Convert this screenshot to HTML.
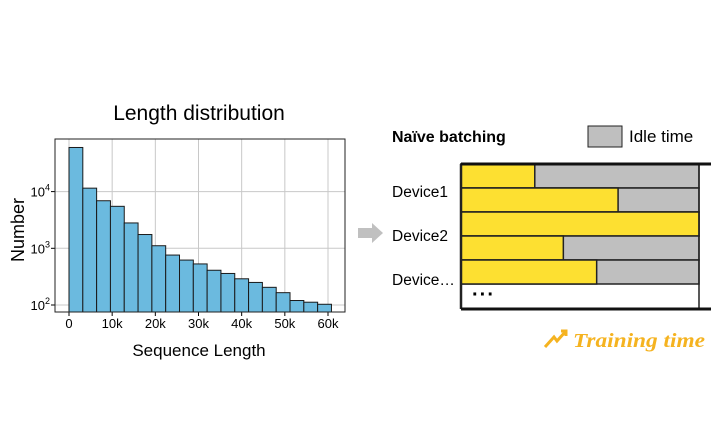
<!DOCTYPE html>
<html><head><meta charset="utf-8"><style>
body{margin:0;background:#fff;}
svg{display:block;font-family:"Liberation Sans","DejaVu Sans",sans-serif;}
</style></head><body>
<svg id="c" width="726" height="425" viewBox="0 0 726 425">
<rect width="726" height="425" fill="#fff"/>
<text x="199" y="120" font-size="21" text-anchor="middle">Length distribution</text>
<g id="plot"></g>
<text x="199" y="356" font-size="17" text-anchor="middle">Sequence Length</text>
<text transform="translate(24,230) rotate(-90)" font-size="18" text-anchor="middle">Number</text>
<polygon points="358,228 372,228 372,223 383,233 372,243 372,238 358,238" fill="#c0c0c0"/>
<text x="392" y="142" font-size="16" font-weight="bold">Naïve batching</text>
<rect x="588" y="126" width="34" height="21" fill="#bfbfbf" stroke="#222" stroke-width="1"/>
<text x="629" y="142" font-size="17">Idle time</text>
<g id="dev"></g>
<text x="392" y="197" font-size="15.5">Device1</text>
<text x="392" y="241" font-size="15.5">Device2</text>
<text x="392" y="285" font-size="15.5">Device…</text>
<text x="472" y="301" font-size="20" font-weight="bold" letter-spacing="1">···</text>
<g>
<path d="M545,347 L554,337 L557,341 L566,331 M561,331 L566,331 L566,336" stroke="#f5b320" stroke-width="3" fill="none"/>
<text x="573" y="347" font-size="20" font-weight="bold" font-style="italic" fill="#f5b320" textLength="132" lengthAdjust="spacingAndGlyphs" font-family="Liberation Serif, serif">Training time</text>
</g>
</svg>
<script>
const binStarts=[0,3.2,6.4,9.6,12.8,16,19.2,22.4,25.6,28.8,32,35.2,38.4,41.6,44.8,48,51.2,54.4,57.6];
const counts=[60000,11500,6900,5500,2800,1750,1110,760,620,530,410,360,290,250,205,165,120,112,103];
const xTicks=[0,10,20,30,40,50,60];
const xTickLabels=["0","10k","20k","30k","40k","50k","60k"];
const yTicks=[2,3,4];
const binWidth=3.2;
const devYellow=[0.31,0.66,1.0,0.43,0.57];
const NS="http://www.w3.org/2000/svg";
const L=55,R=345,T=139,B=312;
const xs=k=>69+(k)*(328-69)/60;
const ys=v=>305-(Math.log10(v)-2)*56.7;
function mk(t,a,p){const e=document.createElementNS(NS,t);for(const k in a)e.setAttribute(k,a[k]);p.appendChild(e);return e;}
const g=document.getElementById('plot');
mk('rect',{x:L,y:T,width:R-L,height:B-T,fill:'#fff'},g);
xTicks.forEach((t,i)=>{const x=xs(t);
const l=mk('line',{x1:x,x2:x,y1:T,y2:B,stroke:'#c8c8c8','stroke-width':1},g);


mk('line',{x1:x,x2:x,y1:B,y2:B+4,stroke:'#000'},g);
const tx=mk('text',{x:x,y:B+16,'font-size':13,'text-anchor':'middle'},g);tx.textContent=xTickLabels[i];

});
yTicks.forEach(p=>{const y=ys(Math.pow(10,p));
const l=mk('line',{x1:L,x2:R,y1:y,y2:y,stroke:'#c8c8c8','stroke-width':1},g);


mk('line',{x1:L-4,x2:L,y1:y,y2:y,stroke:'#000'},g);
const tx=mk('text',{x:L-5,y:y+5,'font-size':13,'text-anchor':'end'},g);tx.innerHTML='10<tspan dy="-6" font-size="9">'+p+'</tspan>';

});
counts.forEach((c,i)=>{const x0=xs(binStarts[i]),x1=xs(binStarts[i]+binWidth),y=ys(c);
const r=mk('rect',{x:x0,y:y,width:x1-x0,height:B-y,fill:'#6bbadf',stroke:'#1a1a1a','stroke-width':1},g);

});
mk('rect',{x:L,y:T,width:R-L,height:B-T,fill:'none',stroke:'#222','stroke-width':1},g);
const d=document.getElementById('dev');
const DL=461,DR=699,rowTop=164,rowH=24;
devYellow.forEach((f,i)=>{const y=rowTop+i*rowH,xm=DL+f*(DR-DL);
mk('rect',{x:DL,y:y,width:DR-DL,height:rowH,fill:'#bfbfbf',stroke:'#222','stroke-width':1.5},d);
const r=mk('rect',{x:DL,y:y,width:xm-DL,height:rowH,fill:'#fde031',stroke:'#222','stroke-width':1.5},d);

});
mk('line',{x1:DR,x2:DR,y1:rowTop,y2:309,stroke:'#222','stroke-width':1.5},d);
mk('line',{x1:DL,x2:DL,y1:rowTop,y2:309,stroke:'#222','stroke-width':2.5},d);
mk('line',{x1:DL,x2:711,y1:rowTop,y2:rowTop,stroke:'#111','stroke-width':3},d);
mk('line',{x1:DL,x2:711,y1:309,y2:309,stroke:'#111','stroke-width':3},d);
</script>
</body></html>
